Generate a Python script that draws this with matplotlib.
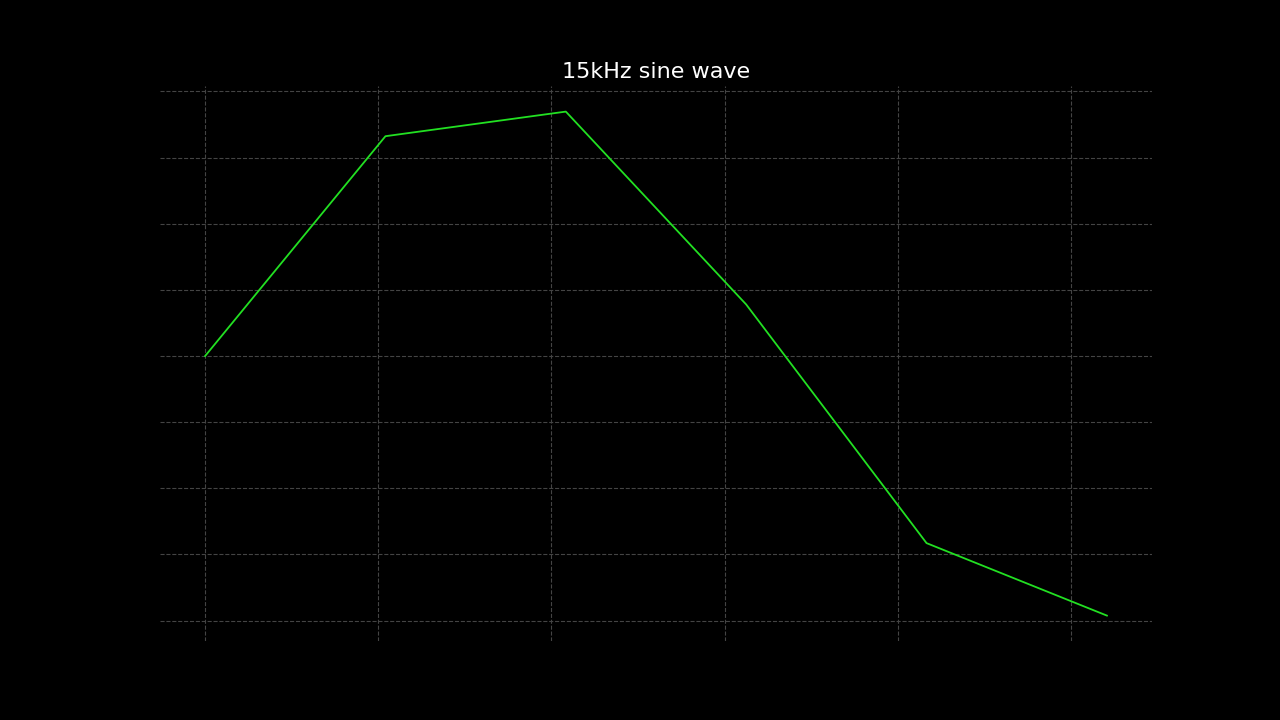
#!/usr/bin/env python3
"""15 kHz sine wave sampled at 48 kHz, drawn oscilloscope style."""

import matplotlib

matplotlib.use("Agg")

import matplotlib.pyplot as plt

# sample times [s] (48 kHz sampling) and amplitudes
time_s = [0.0, 20.833e-6, 41.667e-6, 62.5e-6, 83.333e-6, 104.167e-6]
amplitude = [0.0, 0.831, 0.924, 0.195, -0.707, -0.981]

x_ticks = [0.0, 20e-6, 40e-6, 60e-6, 80e-6, 100e-6]
y_ticks = [-1.0, -0.75, -0.5, -0.25, 0.0, 0.25, 0.5, 0.75, 1.0]


def main() -> int:
    fig, ax = plt.subplots(figsize=(12.8, 7.2), dpi=100)
    fig.patch.set_facecolor("black")
    ax.set_facecolor("black")

    ax.plot(time_s, amplitude, color="#22e022", linewidth=1.3)

    ax.set_xticks(x_ticks)
    ax.set_yticks(y_ticks)
    ax.tick_params(colors="black", labelcolor="black", length=0)
    for spine in ax.spines.values():
        spine.set_visible(False)
    ax.grid(True, color="#444444", linestyle="--", linewidth=0.8)

    ax.set_title("15kHz sine wave", color="white", fontsize=16)

    fig.savefig("out.png", dpi=100, facecolor=fig.get_facecolor())
    plt.close(fig)
    return 0


if __name__ == "__main__":
    raise SystemExit(main())
